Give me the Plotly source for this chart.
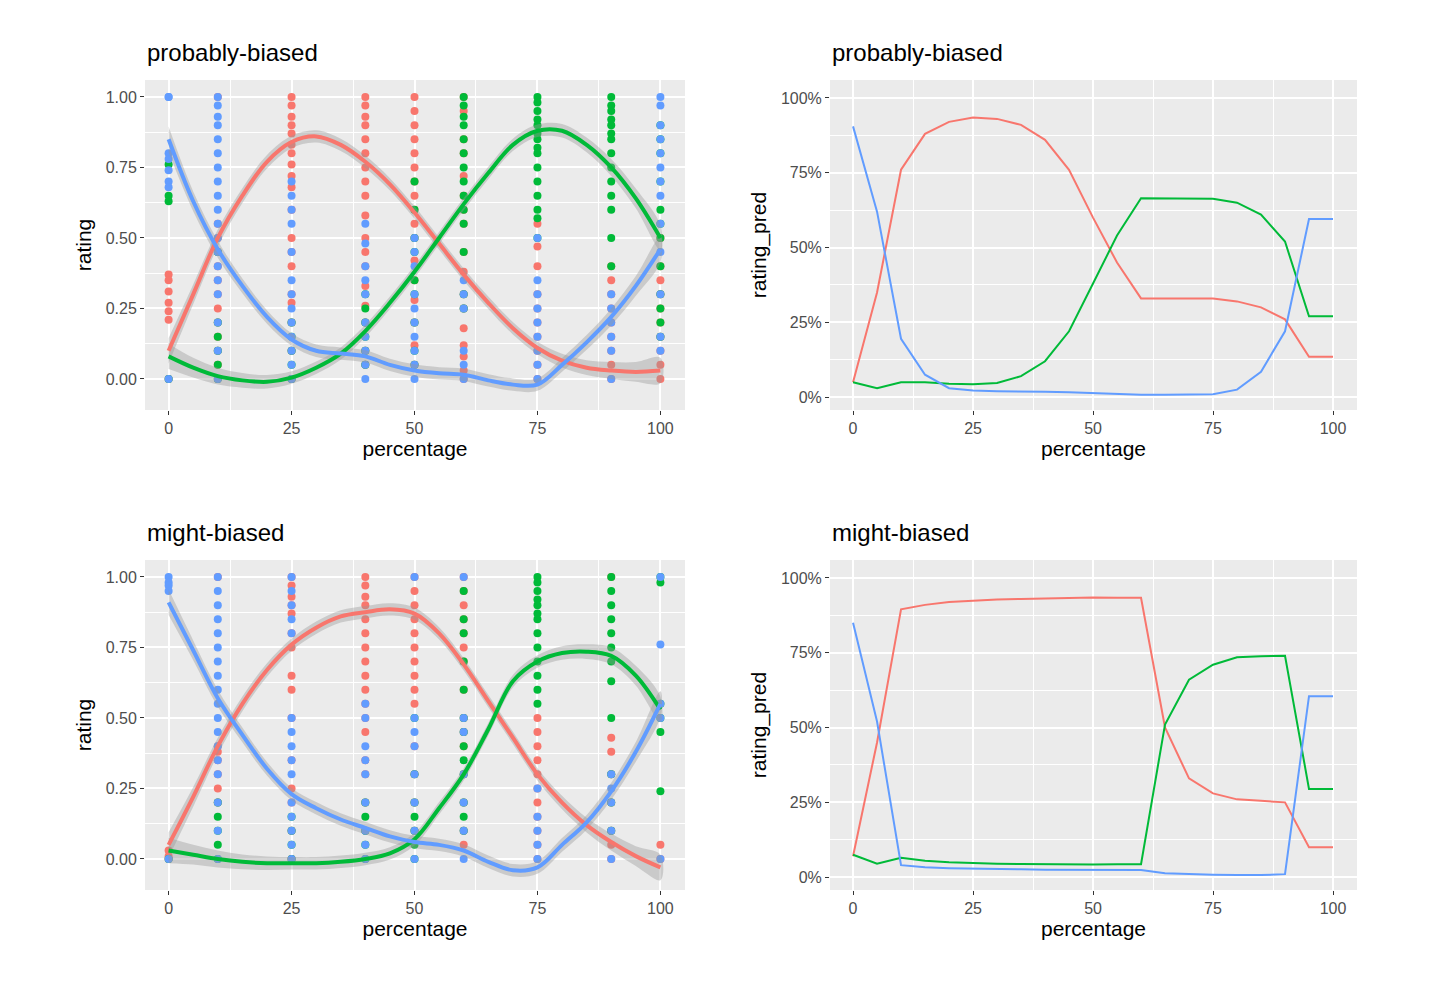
import plotly.graph_objects as go

RED, GREEN, BLUE = "#F8766D", "#00BA38", "#619CFF"

# ---- raw ratings (left panels): (percentage, [ratings]) ----
pb_red_pts = [(0, [0.37, 0.35, 0.31, 0.27, 0.24, 0.21, 0.0]),
              (10, [0.55, 0.5, 0.45, 0.4, 0.35, 0.3, 0.25, 0.2, 0.15, 0.1, 0.05, 0.0, 1.0]),
              (25, [1.0, 0.97, 0.93, 0.9, 0.87, 0.83, 0.8, 0.76, 0.72, 0.68, 0.6, 0.5, 0.45, 0.4, 0.3, 0.27, 0.2, 0.1, 0.0]),
              (40, [1.0, 0.97, 0.93, 0.9, 0.85, 0.8, 0.75, 0.7, 0.65, 0.58, 0.5, 0.45, 0.4, 0.33, 0.26, 0.2, 0.1, 0.05]),
              (50, [1.0, 0.95, 0.9, 0.85, 0.8, 0.75, 0.7, 0.65, 0.6, 0.55, 0.5, 0.42, 0.35, 0.28, 0.2, 0.12, 0.05]),
              (60, [1.0, 0.95, 0.85, 0.8, 0.72, 0.65, 0.6, 0.55, 0.45, 0.38, 0.3, 0.25, 0.18, 0.12, 0.08, 0.03, 0.0]),
              (75, [0.55, 0.47, 0.4, 0.3, 0.25, 0.2, 0.15, 0.1, 0.05, 0.0]),
              (90, [0.4, 0.35, 0.3, 0.25, 0.2, 0.15, 0.1, 0.05, 0.0]),
              (100, [0.5, 0.4, 0.35, 0.3, 0.25, 0.2, 0.15, 0.1, 0.05, 0.0])]
pb_green_pts = [(0, [0.76, 0.65, 0.63, 0.0]),
                (10, [0.45, 0.2, 0.15, 0.1, 0.05, 0.0]),
                (25, [0.2, 0.15, 0.1, 0.05, 0.0]),
                (40, [0.3, 0.25, 0.2, 0.15, 0.1, 0.05]),
                (50, [0.7, 0.6, 0.5, 0.45, 0.35, 0.3, 0.2, 0.1, 0.05]),
                (60, [1.0, 0.97, 0.93, 0.9, 0.85, 0.8, 0.75, 0.7, 0.65, 0.6, 0.55, 0.45, 0.3, 0.25]),
                (75, [1.0, 0.98, 0.95, 0.92, 0.9, 0.87, 0.85, 0.82, 0.8, 0.75, 0.7, 0.65, 0.6, 0.57, 0.5]),
                (90, [1.0, 0.97, 0.95, 0.92, 0.9, 0.87, 0.85, 0.8, 0.75, 0.7, 0.65, 0.6, 0.5, 0.4]),
                (100, [0.9, 0.85, 0.8, 0.7, 0.6, 0.55, 0.5, 0.4, 0.3, 0.25, 0.2, 0.15])]
pb_blue_pts = [(0, [1.0, 1.0, 0.8, 0.78, 0.74, 0.7, 0.68, 0.0]),
               (10, [1.0, 0.97, 0.93, 0.9, 0.85, 0.8, 0.75, 0.7, 0.65, 0.6, 0.55, 0.5, 0.45, 0.4, 0.35, 0.3, 0.2, 0.1, 0.0]),
               (25, [0.7, 0.65, 0.6, 0.55, 0.45, 0.35, 0.3, 0.25, 0.2, 0.15, 0.1, 0.05, 0.0]),
               (40, [0.55, 0.48, 0.4, 0.35, 0.3, 0.2, 0.15, 0.1, 0.05, 0.0]),
               (50, [0.5, 0.45, 0.4, 0.3, 0.25, 0.2, 0.15, 0.1, 0.05, 0.0]),
               (60, [0.35, 0.3, 0.25, 0.1, 0.05, 0.0]),
               (75, [0.5, 0.35, 0.3, 0.25, 0.2, 0.15, 0.1, 0.05, 0.0]),
               (90, [0.3, 0.25, 0.2, 0.15, 0.1, 0.0]),
               (100, [1.0, 0.97, 0.9, 0.85, 0.8, 0.75, 0.7, 0.65, 0.55, 0.45, 0.3, 0.15, 0.1])]

mb_red_pts = [(0, [0.03, 0.01, 0.0]),
              (10, [0.4, 0.38, 0.35, 0.3, 0.25, 0.2, 1.0]),
              (25, [1.0, 0.97, 0.93, 0.9, 0.87, 0.8, 0.75, 0.65, 0.6, 0.5, 0.35, 0.25, 0.2, 0.1, 0.0]),
              (40, [1.0, 0.97, 0.93, 0.9, 0.85, 0.8, 0.75, 0.7, 0.65, 0.6, 0.55, 0.5, 0.45, 0.35, 0.3, 0.2, 0.1]),
              (50, [1.0, 0.95, 0.9, 0.85, 0.8, 0.75, 0.7, 0.65, 0.6, 0.55, 0.4, 0.3, 0.2, 0.1]),
              (60, [1.0, 0.95, 0.9, 0.85, 0.8, 0.75, 0.7, 0.6, 0.5, 0.45, 0.4, 0.3, 0.2, 0.1, 0.05]),
              (75, [0.5, 0.45, 0.4, 0.35, 0.3, 0.25, 0.2, 0.15, 0.1, 0.05, 0.0]),
              (90, [1.0, 0.43, 0.38, 0.3, 0.2, 0.1, 0.05, 0.0]),
              (100, [0.05, 0.0])]
mb_green_pts = [(0, [0.0]),
                (10, [0.2, 0.15, 0.1, 0.05, 0.0]),
                (25, [0.15, 0.1, 0.05, 0.0]),
                (40, [0.2, 0.15, 0.1, 0.05, 0.0]),
                (50, [0.5, 0.3, 0.2, 0.15, 0.1, 0.05, 0.0]),
                (60, [0.95, 0.85, 0.8, 0.7, 0.6, 0.5, 0.45, 0.4, 0.35, 0.3, 0.2, 0.15, 0.1]),
                (75, [1.0, 0.98, 0.95, 0.92, 0.9, 0.87, 0.85, 0.8, 0.75, 0.7, 0.65, 0.6, 0.55]),
                (90, [1.0, 0.95, 0.9, 0.85, 0.8, 0.75, 0.7, 0.63, 0.5, 0.3, 0.2, 0.1]),
                (100, [1.0, 0.98, 0.55, 0.5, 0.45, 0.24])]
mb_blue_pts = [(0, [1.0, 0.98, 0.97, 0.95, 0.0]),
               (10, [1.0, 0.95, 0.9, 0.85, 0.8, 0.75, 0.7, 0.65, 0.6, 0.55, 0.5, 0.45, 0.4, 0.35, 0.3, 0.2, 0.1, 0.0]),
               (25, [1.0, 0.95, 0.9, 0.85, 0.8, 0.5, 0.45, 0.4, 0.35, 0.3, 0.2, 0.15, 0.1, 0.05, 0.0]),
               (40, [0.55, 0.5, 0.4, 0.35, 0.3, 0.2, 0.1, 0.05, 0.0]),
               (50, [1.0, 0.5, 0.45, 0.4, 0.3, 0.2, 0.1, 0.0]),
               (60, [1.0, 0.5, 0.45, 0.3, 0.2, 0.1, 0.0]),
               (75, [0.25, 0.15, 0.1, 0.05, 0.0]),
               (90, [0.3, 0.25, 0.2, 0.1, 0.0]),
               (100, [1.0, 0.76, 0.55, 0.5, 0.0])]

# ---- smoothed fits (left panels), x every 5 ----
xs = list(range(0, 101, 5))
smooth_se = [0.045, 0.035, 0.03, 0.026, 0.024, 0.022, 0.022, 0.022, 0.022, 0.022, 0.022,
             0.022, 0.022, 0.022, 0.022, 0.022, 0.024, 0.026, 0.03, 0.035, 0.045]
pb_red_fit = [0.10, 0.30, 0.50, 0.65, 0.77, 0.84, 0.86, 0.83, 0.77, 0.69, 0.59, 0.48, 0.37,
              0.27, 0.18, 0.11, 0.065, 0.04, 0.03, 0.025, 0.03]
pb_green_fit = [0.08, 0.04, 0.01, -0.005, -0.01, 0.005, 0.04, 0.09, 0.17, 0.27, 0.38, 0.50,
                0.62, 0.73, 0.83, 0.88, 0.88, 0.83, 0.75, 0.64, 0.50]
pb_blue_fit = [0.85, 0.63, 0.46, 0.33, 0.22, 0.14, 0.10, 0.09, 0.08, 0.05, 0.03, 0.02, 0.015,
               -0.005, -0.02, -0.02, 0.05, 0.13, 0.22, 0.33, 0.46]
mb_red_fit = [0.05, 0.22, 0.40, 0.55, 0.67, 0.76, 0.82, 0.86, 0.875, 0.885, 0.87, 0.80, 0.69,
              0.56, 0.43, 0.30, 0.20, 0.12, 0.06, 0.01, -0.03]
mb_green_fit = [0.03, 0.015, 0.0, -0.01, -0.015, -0.015, -0.015, -0.01, 0.0, 0.02, 0.07, 0.18,
                0.30, 0.46, 0.63, 0.70, 0.73, 0.735, 0.72, 0.65, 0.53]
mb_blue_fit = [0.91, 0.74, 0.57, 0.44, 0.32, 0.23, 0.18, 0.14, 0.11, 0.08, 0.06, 0.05, 0.03,
               -0.01, -0.04, -0.03, 0.05, 0.13, 0.24, 0.38, 0.55]

# ---- predicted probabilities (right panels) ----
pb_red_pred = [0.05, 0.35, 0.76, 0.88, 0.92, 0.935, 0.93, 0.91, 0.86, 0.76, 0.60, 0.45, 0.33,
               0.33, 0.33, 0.33, 0.32, 0.30, 0.26, 0.135, 0.135]
pb_green_pred = [0.05, 0.03, 0.05, 0.05, 0.045, 0.043, 0.047, 0.07, 0.12, 0.22, 0.38, 0.54,
                 0.665, 0.665, 0.665, 0.663, 0.65, 0.61, 0.52, 0.27, 0.27]
pb_blue_pred = [0.905, 0.62, 0.195, 0.075, 0.03, 0.022, 0.02, 0.02, 0.018, 0.016, 0.013, 0.01,
                0.008, 0.008, 0.009, 0.01, 0.025, 0.085, 0.22, 0.595, 0.595]
mb_red_pred = [0.07, 0.45, 0.895, 0.91, 0.92, 0.925, 0.928, 0.93, 0.932, 0.933, 0.935, 0.934,
               0.934, 0.5, 0.33, 0.28, 0.26, 0.255, 0.25, 0.10, 0.10]
mb_green_pred = [0.075, 0.045, 0.065, 0.055, 0.05, 0.047, 0.045, 0.044, 0.043, 0.043, 0.042,
                 0.043, 0.043, 0.51, 0.66, 0.71, 0.735, 0.738, 0.74, 0.295, 0.295]
mb_blue_pred = [0.85, 0.52, 0.04, 0.033, 0.03, 0.028, 0.027, 0.026, 0.025, 0.025, 0.024, 0.024,
                0.024, 0.013, 0.01, 0.008, 0.007, 0.007, 0.01, 0.605, 0.605]

fig = go.Figure()


def add_points(pts, color, xa, ya):
    px_, py_ = [], []
    for x, vals in pts:
        px_ += [x] * len(vals)
        py_ += vals
    fig.add_trace(go.Scatter(x=px_, y=py_, mode="markers", xaxis=xa, yaxis=ya,
                             marker=dict(color=color, size=8), showlegend=False))


def add_smooth(fit, color, xa, ya):
    up = [f + s for f, s in zip(fit, smooth_se)]
    lo = [f - s for f, s in zip(fit, smooth_se)]
    fig.add_trace(go.Scatter(x=xs + xs[::-1], y=up + lo[::-1], fill="toself", mode="lines",
                             line=dict(width=0, shape="spline"), fillcolor="rgba(153,153,153,0.4)",
                             xaxis=xa, yaxis=ya, showlegend=False, hoverinfo="skip"))
    return dict(x=xs, y=fit, mode="lines", line=dict(color=color, width=4, shape="spline"),
                xaxis=xa, yaxis=ya, showlegend=False)


for pts, fits, xa, ya in [((pb_red_pts, pb_green_pts, pb_blue_pts), (pb_red_fit, pb_green_fit, pb_blue_fit), "x", "y"),
                          ((mb_red_pts, mb_green_pts, mb_blue_pts), (mb_red_fit, mb_green_fit, mb_blue_fit), "x3", "y3")]:
    for p, c in zip(pts, (RED, GREEN, BLUE)):
        add_points(p, c, xa, ya)
    lines = [add_smooth(f, c, xa, ya) for f, c in zip(fits, (RED, GREEN, BLUE))]
    for l in lines:
        fig.add_trace(go.Scatter(**l))

for preds, xa, ya in [((pb_red_pred, pb_green_pred, pb_blue_pred), "x2", "y2"),
                      ((mb_red_pred, mb_green_pred, mb_blue_pred), "x4", "y4")]:
    for p, c in zip(preds, (RED, GREEN, BLUE)):
        fig.add_trace(go.Scatter(x=xs, y=p, mode="lines", xaxis=xa, yaxis=ya,
                                 line=dict(color=c, width=2), showlegend=False))

tickfont = dict(size=16, color="#4D4D4D")
minor = dict(showgrid=True, gridcolor="white", gridwidth=0.6)


def xaxis(dom, anchor, minor_dt):
    return dict(domain=dom, anchor=anchor, range=[-4.8, 105], tickvals=[0, 25, 50, 75, 100],
                showgrid=True, gridcolor="white", gridwidth=1.6, zeroline=False,
                ticks="outside", ticklen=4, tickcolor="#333333", tickfont=tickfont,
                title=dict(text="percentage", font=dict(size=21, color="black"), standoff=4),
                minor=dict(dtick=minor_dt, tick0=0, **minor))


def yleft(dom, anchor):
    return dict(domain=dom, anchor=anchor, range=[-0.11, 1.06], tickvals=[0, 0.25, 0.5, 0.75, 1],
                ticktext=["0.00", "0.25", "0.50", "0.75", "1.00"], showgrid=True, gridcolor="white",
                gridwidth=1.6, zeroline=False, ticks="outside", ticklen=4, tickcolor="#333333",
                tickfont=tickfont, title=dict(text="rating", font=dict(size=21, color="black"), standoff=8),
                minor=dict(dtick=0.125, tick0=0.125, **minor))


def yright(dom, anchor):
    return dict(domain=dom, anchor=anchor, range=[-0.043, 1.06], tickvals=[0, 0.25, 0.5, 0.75, 1],
                ticktext=["0%", "25%", "50%", "75%", "100%"], showgrid=True, gridcolor="white",
                gridwidth=1.6, zeroline=False, ticks="outside", ticklen=4, tickcolor="#333333",
                tickfont=tickfont, title=dict(text="rating_pred", font=dict(size=21, color="black"), standoff=8),
                minor=dict(dtick=0.125, tick0=0.125, **minor))


W, H = 1456, 992
OFF = 8  # page body margin


def xd(a, b):
    return [(a - OFF) / W, (b - OFF) / W]


def yd(top_px, bot_px):
    return [1 - (bot_px - OFF) / H, 1 - (top_px - OFF) / H]


top, bot = yd(80, 410), yd(560, 890)
lx, rx = xd(145, 685), xd(830, 1357)
fig.update_layout(
    width=W, height=H, margin=dict(l=0, r=0, t=0, b=0),
    paper_bgcolor="white", plot_bgcolor="#EBEBEB",
    font=dict(family="Liberation Sans, Arial, sans-serif"),
    xaxis=xaxis(lx, "y", 12.5), yaxis=yleft(top, "x"),
    xaxis2=xaxis(rx, "y2", 12.5), yaxis2=yright(top, "x2"),
    xaxis3=xaxis(lx, "y3", 12.5), yaxis3=yleft(bot, "x3"),
    xaxis4=xaxis(rx, "y4", 12.5), yaxis4=yright(bot, "x4"),
)
for text, x, y in [("probably-biased", lx[0], top[1] + 0.012), ("probably-biased", rx[0], top[1] + 0.012),
                   ("might-biased", lx[0], bot[1] + 0.012), ("might-biased", rx[0], bot[1] + 0.012)]:
    fig.add_annotation(text=text, x=x, y=y, xref="paper", yref="paper", xanchor="left",
                       yanchor="bottom", showarrow=False, font=dict(size=24, color="black"))

fig.write_html("out.html")
